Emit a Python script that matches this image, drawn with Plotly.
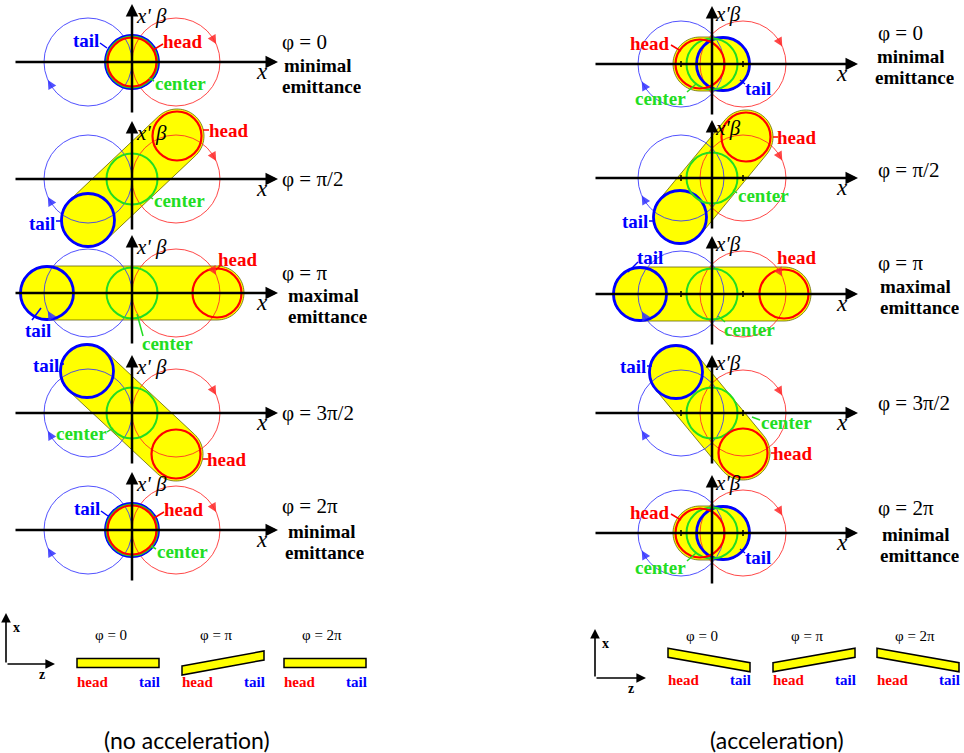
import numpy as np
import plotly.graph_objects as go

# ---------------- data ----------------
phase_labels = ["φ = 0", "φ = π/2", "φ = π", "φ = 3π/2", "φ = 2π"]
emittance_notes = [["minimal", "emittance"], [], ["maximal", "emittance"], [], ["minimal", "emittance"]]

# centroid offsets of head / tail / centre slices in (x, x'β), schematic pixels
noacc_head_x = [0, 45, 85, 44, 0]
noacc_head_y = [0, 43, 0, -41, 0]
noacc_tail_x = [0, -44, -85, -45, 0]
noacc_tail_y = [0, -41, 0, 42, 0]
acc_head_x = [-12, 34, 72, 31, -12]
acc_head_y = [0, 41, 0, -40, 0]
acc_tail_x = [11, -32, -72, -36, 11]
acc_tail_y = [0, -39, 0, 41, 0]
center_x = [0, 0, 0, 0, 0]
center_y = [0, 0, 0, 0, 0]

# betatron orbits of head (+offset) and tail (-offset)
noacc_orbit_offset = 44
noacc_orbit_radius = 44
acc_orbit_offset = 31
acc_orbit_radius = 43

slab_labels = ["φ = 0", "φ = π", "φ = 2π"]
slab_tilt_noacc = [0, 15, 0]
slab_tilt_acc = [-14.5, 14.5, -14.5]
captions = ["(no acceleration)", "(acceleration)"]

# ---------------- layout constants ----------------
W, H = 964, 753
SERIF = "Liberation Serif"
RED, BLUE, GREEN = "#FF0000", "#0000FF", "#22DD22"
ORB_RED, ORB_BLUE = "rgba(255,40,40,0.85)", "rgba(50,50,255,0.85)"
YELLOW = "#FFFF00"

COL_OX = [132, 712]
ROW_OY = [[62, 179, 293, 413, 530], [64, 178, 294, 413, 533]]
BEAM_R = {"tail": 26.5, "center": 25.5, "head": 24.5}
BEAM_W = {"tail": 2.8, "center": 2.0, "head": 2.2}
BEAM_C = {"tail": BLUE, "center": GREEN, "head": RED}
HULL_R = 27

# label placement: (name, dx, dy, leader (x0,y0,x1,y1) or None), screen offsets
LBL = [
    [
        [("tail", -46, -22, (-32, -19, -25, -14)), ("head", 51, -21, (31, -18, 21, -12)), ("center", 48, 21, (22, 19, 17, 16))],
        [("head", 97, -49, (71, -49, 77, -49)), ("center", 47, 21, (21, 20, 17, 17)), ("tail", -90, 44, (-76, 42, -69, 42))],
        [("head", 106, -34, (88, -27, 84, -23)), ("tail", -94, 37, (-100, 27, -91, 15)), ("center", 35, 50, (11, 43, 5, 21))],
        [("tail", -86, -48, (-72, -49, -68, -49)), ("center", -51, 20, (-25, 19, -19, 15)), ("head", 95, 46, (71, 46, 76, 46))],
        [("tail", -45, -22, (-31, -19, -24, -14)), ("head", 52, -21, (32, -18, 22, -12)), ("center", 50, 21, (24, 19, 19, 16))],
    ],
    [
        [("head", -62, -21, (-41, -19, -31, -13)), ("center", -52, 34, (-25, 28, -16, 20)), ("tail", 46, 24, (33, 20, 28, 16))],
        [("head", 85, -41, (61, -41, 66, -41)), ("center", 51, 17, (25, 15, 21, 12)), ("tail", -77, 43, (-63, 43, -57, 43))],
        [("tail", -62, -37, (-74, -32, -84, -22)), ("head", 85, -37, None), ("center", 37, 35, (13, 28, 6, 22))],
        [("tail", -79, -47, (-65, -47, -60, -47)), ("center", 74, 9, (48, 7, 40, 4)), ("head", 81, 40, (59, 40, 64, 40))],
        [("head", -62, -21, (-41, -19, -31, -13)), ("center", -52, 34, (-25, 28, -16, 20)), ("tail", 46, 24, (33, 20, 28, 16))],
    ],
]
PHASE_DX = [148, 164]
PHASE_DY = [[-20, 0, -20, 0, -24], [-31, -8, -31, -10, -25]]
NOTE_DY = [[[3, 24], [], [2, 23], [], [1, 22]], [[-8, 13], [], [-8, 13], [], [1, 22]]]
NOTE_DX = [[[150, 148], [], [154, 154], [], [154, 151]], [[163, 161], [], [166, 166], [], [168, 166]]]

SLAB_X = [[77, 182, 284], [668, 773, 877]]
SLAB_Y = [663, 660]
SLAB_LEN, SLAB_THK = 82, 9
MINI_AX = [(6, 664, 613, 55), (595, 678, 629, 646)]
CAP_X = [187, 777]

shapes, annotations = [], []


def add_circle(cx, cy, r, color, width):
    shapes.append(dict(type="circle", xref="x", yref="y", x0=cx - r, x1=cx + r, y0=cy - r, y1=cy + r,
                       line=dict(color=color, width=width), fillcolor="rgba(0,0,0,0)"))


def hull_path(ax_, ay_, bx, by, r, n=40):
    if abs(bx - ax_) + abs(by - ay_) < 1e-6:
        t = np.linspace(0, 2 * np.pi, 2 * n)
        pts = list(zip(ax_ + r * np.cos(t), ay_ + r * np.sin(t)))
    else:
        d = np.arctan2(by - ay_, bx - ax_)
        t1 = np.linspace(d - np.pi / 2, d + np.pi / 2, n)
        t2 = np.linspace(d + np.pi / 2, d + 3 * np.pi / 2, n)
        pts = list(zip(bx + r * np.cos(t1), by + r * np.sin(t1))) + list(zip(ax_ + r * np.cos(t2), ay_ + r * np.sin(t2)))
    return "M " + " L ".join(f"{x:.2f},{y:.2f}" for x, y in pts) + " Z"


def arrow(x0, y0, x1, y1, color="black", width=2.5, size=1.0):
    annotations.append(dict(x=x1, y=y1, ax=x0, ay=y0, xref="x", yref="y", axref="x", ayref="y", text="",
                            showarrow=True, arrowhead=2, arrowsize=size, arrowwidth=width, arrowcolor=color, standoff=0))


def text(x, y, s, size, color="black", xanchor="center", family=SERIF, height=None):
    a = dict(x=x, y=y, xref="x", yref="y", text=s, showarrow=False, xanchor=xanchor, yanchor="middle",
             font=dict(family=family, size=size, color=color))
    if height is not None:
        a["height"] = height
    annotations.append(a)


columns = [
    dict(hx=noacc_head_x, hy=noacc_head_y, tx=noacc_tail_x, ty=noacc_tail_y, off=noacc_orbit_offset, rad=noacc_orbit_radius,
         xb="<i>x' β</i>", xbdx=19, xbdy=-46, ticks=False),
    dict(hx=acc_head_x, hy=acc_head_y, tx=acc_tail_x, ty=acc_tail_y, off=acc_orbit_offset, rad=acc_orbit_radius,
         xb="<i>x'β</i>", xbdx=16, xbdy=-50, ticks=True),
]

for c, col in enumerate(columns):
    ox = COL_OX[c]
    for r in range(5):
        oy = ROW_OY[c][r]
        pos = {
            "head": (ox + col["hx"][r], oy - col["hy"][r]),
            "tail": (ox + col["tx"][r], oy - col["ty"][r]),
            "center": (ox + center_x[r], oy - center_y[r]),
        }
        # yellow beam envelope
        shapes.append(dict(type="path", xref="x", yref="y", path=hull_path(*pos["tail"], *pos["head"], HULL_R),
                           fillcolor=YELLOW, line=dict(color="rgba(90,90,0,0.75)", width=1)))
        # betatron orbits
        add_circle(ox - col["off"], oy, col["rad"], ORB_BLUE, 1)
        add_circle(ox + col["off"], oy, col["rad"], ORB_RED, 1)
        # orbit direction arrows (clockwise)
        for cx, th, colr in [(ox + col["off"], 24, ORB_RED), (ox - col["off"], 204, ORB_BLUE)]:
            a1, a0 = np.radians(th), np.radians(th + 12)
            arrow(cx + col["rad"] * np.cos(a0), oy - col["rad"] * np.sin(a0),
                  cx + col["rad"] * np.cos(a1), oy - col["rad"] * np.sin(a1), color=colr, width=1, size=1.8)
        # slice rings
        for name in ["tail", "center", "head"]:
            add_circle(pos[name][0], pos[name][1], BEAM_R[name], BEAM_C[name], BEAM_W[name])
        # axes
        arrow(ox - 118, oy, ox + 146, oy)
        arrow(ox, oy + 52, ox, oy - 58)
        if col["ticks"]:
            for sgn in (-1, 1):
                shapes.append(dict(type="line", xref="x", yref="y", x0=ox + sgn * col["off"], x1=ox + sgn * col["off"],
                                   y0=oy - 3, y1=oy + 3, line=dict(color="black", width=1.5)))
        text(ox + col["xbdx"], oy + col["xbdy"], col["xb"], 21)
        text(ox + 130, oy + 9, "<i>x</i>", 23)
        # slice labels with leader lines
        for name, dx, dy, ld in LBL[c][r]:
            text(ox + dx, oy + dy, f"<b>{name}</b>", 19, BEAM_C[name])
            if ld is not None:
                shapes.append(dict(type="line", xref="x", yref="y", x0=ox + ld[0], y0=oy + ld[1], x1=ox + ld[2], y1=oy + ld[3],
                                   line=dict(color=BEAM_C[name], width=1.5)))
        # phase and emittance notes
        text(ox + PHASE_DX[c], oy + PHASE_DY[c][r], phase_labels[r], 21, xanchor="left",
             height=20 if emittance_notes[r] else None)
        for k, note in enumerate(emittance_notes[r]):
            text(ox + NOTE_DX[c][r][k], oy + NOTE_DY[c][r][k], f"<b>{note}</b>", 19, xanchor="left", height=19)

# ---------------- bottom: bunch tilt in (z, x) ----------------
for c, tilts in enumerate([slab_tilt_noacc, slab_tilt_acc]):
    mx, my, mtop, mright = MINI_AX[c]
    arrow(mx, my, mx, mtop, width=1.6, size=1.2)
    arrow(mx, my, mright, my, width=1.6, size=1.2)
    text(mx + 10, mtop + 14, "<b>x</b>", 14, xanchor="center")
    text(mx + 36, my + 10, "<b>z</b>", 14, xanchor="center")
    for k, tilt in enumerate(tilts):
        x0 = SLAB_X[c][k]
        x1 = x0 + SLAB_LEN
        yh = SLAB_Y[c] + tilt / 2
        yt = SLAB_Y[c] - tilt / 2
        h = SLAB_THK / 2
        path = f"M {x0},{yh - h} L {x1},{yt - h} L {x1},{yt + h} L {x0},{yh + h} Z"
        shapes.append(dict(type="path", xref="x", yref="y", path=path, fillcolor=YELLOW,
                           line=dict(color="black", width=1.5)))
        text(x0 + 16, 635 if c == 0 else 636, slab_labels[k], 15, xanchor="left")
        text(x0 + 16, 682 if c == 0 else 680, "<b>head</b>", 15, RED)
        text(x1 - 10, 682 if c == 0 else 680, "<b>tail</b>", 15, BLUE)
    text(CAP_X[c], 740, captions[c], 23, family="Lato")

fig = go.Figure(go.Scatter(x=[], y=[], hoverinfo="skip", showlegend=False))
fig.update_layout(
    width=W, height=H, margin=dict(l=0, r=0, t=0, b=0),
    paper_bgcolor="white", plot_bgcolor="white", showlegend=False,
    xaxis=dict(range=[0, W], visible=False, fixedrange=True),
    yaxis=dict(range=[H, 0], visible=False, fixedrange=True),
    shapes=shapes, annotations=annotations,
)
fig.write_html("out.html", config={"displayModeBar": False},
               post_script="document.body.style.margin='0';document.body.style.overflow='hidden';")
